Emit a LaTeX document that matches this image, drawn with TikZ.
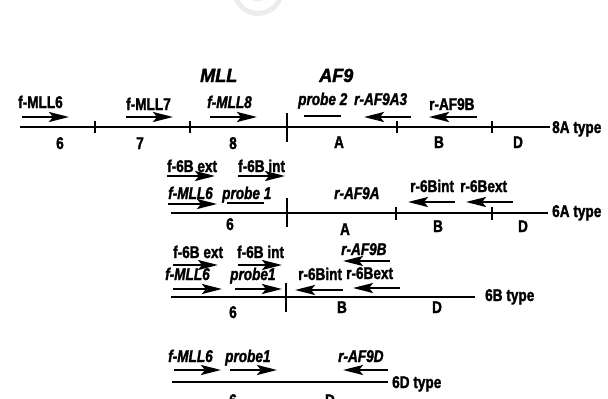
\documentclass[tikz,border=0pt]{standalone}
\usepackage{fontspec}
\newfontfamily\cfb{Liberation Sans Bold}[FakeStretch=0.8,FakeBold=1.6]
\newfontfamily\cfbi{Liberation Sans Bold Italic}[FakeStretch=0.8,FakeBold=1.6]
\newfontfamily\wfbi{Liberation Sans Bold Italic}[FakeStretch=0.95,FakeBold=2]
\usetikzlibrary{arrows.meta}
\tikzset{
  mapline/.style={line width=2.3pt},
  bigtick/.style={line width=2.5pt},
  smalltick/.style={line width=2pt},
  primer/.style={line width=2.3pt,-{Stealth[length=20pt,width=10pt,inset=4pt]}},
  probeline/.style={line width=2.3pt},
  lbl/.style={font=\cfb\fontsize{17}{18}\selectfont,inner sep=0pt,anchor=base west},
  ilbl/.style={font=\cfbi\fontsize{17}{18}\selectfont,inner sep=0pt,anchor=base west},
  num/.style={font=\cfb\fontsize{17}{18}\selectfont,inner sep=0pt,anchor=base},
  gene/.style={font=\wfbi\fontsize{19}{20}\selectfont,inner sep=0pt,anchor=base west},
}
\begin{document}
\begin{tikzpicture}[x=1pt,y=-1pt]
\useasboundingbox (0,0) rectangle (608,399);
% watermark
\draw[gray!15,line width=5pt] (258,-10) circle (23.5);
\draw[gray!15,line width=3pt] (258,-8) circle (8);

% ---------- Row 1: 8A type ----------
\draw[mapline] (20,127) -- (550,127);
\draw[smalltick] (95,121) -- (95,133);
\draw[smalltick] (190,121) -- (190,133);
\draw[bigtick] (287,113) -- (287,142);
\draw[smalltick] (397,121) -- (397,133);
\draw[smalltick] (492,121) -- (492,133);
\node[lbl] (t8A) at (552,133) {8A type};
\node[gene] (mll) at (200,82) {MLL};
\node[gene] (af9) at (319,82) {AF9};
\node[lbl] (fmll6a) at (18,108) {f-MLL6};
\node[lbl] (fmll7) at (126,110) {f-MLL7};
\node[ilbl] (fmll8) at (207,108) {f-MLL8};
\node[ilbl] (probe2) at (298,105) {probe 2};
\node[ilbl] (raf9a3) at (354,105) {r-AF9A3};
\node[lbl] (raf9ba) at (429,110) {r-AF9B};
\draw[primer] (22,117) -- (69,117);
\draw[primer] (126,117) -- (173,117);
\draw[primer] (210,117) -- (257,117);
\draw[probeline] (304,116) -- (341,116);
\draw[primer] (411,117) -- (364,117);
\draw[primer] (477,117) -- (429,117);
\node[num] at (60,149) {6};
\node[num] at (140,149) {7};
\node[num] at (233,149) {8};
\node[num] at (339,148) {A};
\node[num] at (439,148) {B};
\node[num] at (518,148) {D};

% ---------- Row 2: 6A type ----------
\draw[mapline] (171,213) -- (548,213);
\draw[bigtick] (287,198) -- (287,227);
\draw[smalltick] (396,207) -- (396,220);
\draw[smalltick] (492,207) -- (492,220);
\node[lbl] (t6A) at (552,217) {6A type};
\node[lbl] (f6bexta) at (167,172) {f-6B ext};
\node[lbl] (f6binta) at (238,172) {f-6B int};
\node[ilbl] (fmll6b) at (168,199) {f-MLL6};
\node[ilbl] (probe1a) at (222,199) {probe 1};
\node[ilbl] (raf9a) at (334,199) {r-AF9A};
\node[lbl] (r6binta) at (410,192) {r-6Bint};
\node[lbl] (r6bexta) at (460,192) {r-6Bext};
\draw[primer] (167,176) -- (215,176);
\draw[primer] (238,176) -- (285,176);
\draw[primer] (168,204) -- (217,204);
\draw[probeline] (227,203) -- (264,203);
\draw[primer] (455,202) -- (408,202);
\draw[primer] (513,202) -- (466,202);
\node[num] at (230,230) {6};
\node[num] at (345,235) {A};
\node[num] at (438,232) {B};
\node[num] at (523,232) {D};

% ---------- Row 3: 6B type ----------
\draw[mapline] (171,297) -- (475,297);
\draw[bigtick] (286,283) -- (286,312);
\node[lbl] (t6B) at (485,301) {6B type};
\node[lbl] (f6bextb) at (173,258) {f-6B ext};
\node[lbl] (f6bintb) at (237,258) {f-6B int};
\node[ilbl] (fmll6c) at (165,280) {f-MLL6};
\node[ilbl] (probe1b) at (230,280) {probe1};
\node[lbl] (r6bintb) at (298,280) {r-6Bint};
\node[lbl] (r6bextb) at (346,279) {r-6Bext};
\node[ilbl] (raf9bb) at (341,255) {r-AF9B};
\draw[primer] (173,265) -- (218,265);
\draw[primer] (238,265) -- (282,265);
\draw[primer] (173,289) -- (222,289);
\draw[primer] (235,289) -- (282,289);
\draw[primer] (343,290) -- (295,290);
\draw[primer] (400,288) -- (353,288);
\draw[primer] (390,261) -- (343,261);
\node[num] at (233,318) {6};
\node[num] at (342,313) {B};
\node[num] at (437,313) {D};

% ---------- Row 4: 6D type ----------
\draw[mapline] (172,382) -- (388,382);
\node[lbl] (t6D) at (392,388) {6D type};
\node[ilbl] (fmll6d) at (168,362) {f-MLL6};
\node[ilbl] (probe1c) at (225,362) {probe1};
\node[ilbl] (raf9d) at (338,362) {r-AF9D};
\draw[primer] (174,370) -- (221,370);
\draw[primer] (230,370) -- (277,370);
\draw[primer] (388,370) -- (343,370);
\node[num] at (233,406) {6};
\node[num] at (330,406) {D};
\end{tikzpicture}
\end{document}
